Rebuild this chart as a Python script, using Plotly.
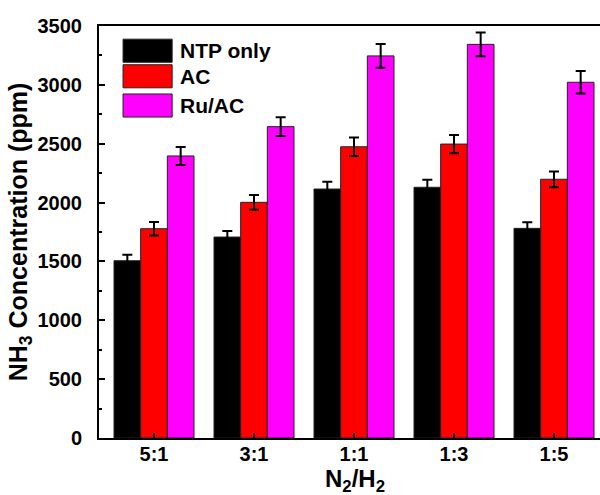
import plotly.graph_objects as go

categories = ["5:1", "3:1", "1:1", "1:3", "1:5"]
series_names = ["NTP only", "AC", "Ru/AC"]
ntp_only = [1506, 1707, 2115, 2130, 1781]
ntp_only_err = [50, 51, 62, 64, 51]
ac = [1778, 2002, 2474, 2497, 2198]
ac_err = [57, 62, 78, 77, 67]
ru_ac = [2396, 2645, 3246, 3344, 3022]
ru_ac_err = [76, 80, 101, 100, 96]
y_ticks = [0, 500, 1000, 1500, 2000, 2500, 3000, 3500]

values = [ntp_only, ac, ru_ac]
errors = [ntp_only_err, ac_err, ru_ac_err]
colors = ["#000000", "#ff0000", "#ff00ff"]
font_family = "Liberation Sans, Arial, sans-serif"

fig = go.Figure()
for name, vals, errs, col in zip(series_names, values, errors, colors):
    fig.add_trace(go.Bar(
        x=categories, y=vals, name=name,
        marker=dict(color=col, line=dict(color="#222222", width=1)),
        error_y=dict(type="data", array=errs, visible=True,
                     color="#000000", thickness=2, width=5),
        showlegend=False,
    ))

# legend drawn as boxes + labels in paper coordinates
legend_top = [0.968, 0.906, 0.835]
box_h = 0.056
for name, col, top in zip(series_names, colors, legend_top):
    fig.add_shape(type="rect", xref="paper", yref="paper",
                  x0=0.048, x1=0.146, y0=top - box_h, y1=top,
                  fillcolor=col, line=dict(color="#222222", width=1))
    fig.add_annotation(x=0.157, y=top - box_h / 2, xref="paper", yref="paper",
                       text=f"<b>{name}</b>", showarrow=False,
                       xanchor="left", yanchor="middle",
                       font=dict(size=21, color="#000000", family=font_family))

# x-axis title
fig.add_annotation(x=0.51, y=-0.102, xref="paper", yref="paper",
                   text="<b>N<sub>2</sub>/H<sub>2</sub></b>", showarrow=False,
                   xanchor="center", yanchor="middle",
                   font=dict(size=24, color="#000000", family=font_family))

fig.update_layout(
    width=600, height=495,
    margin=dict(l=99, r=0, t=26, b=57),
    paper_bgcolor="#ffffff", plot_bgcolor="#ffffff",
    barmode="group", bargap=0.2, bargroupgap=0,
    font=dict(family=font_family, color="#000000"),
)
fig.update_xaxes(
    range=[-0.55, 4.46], automargin=False,
    showline=True, linewidth=2, linecolor="#000000", mirror=True,
    ticks="inside", ticklen=5, tickwidth=2, tickcolor="#000000",
    tickfont=dict(size=20, family=font_family, weight="bold"),
    ticklabelstandoff=-3,
    showgrid=False,
)
fig.update_yaxes(
    range=[0, 3500], automargin=False,
    tickvals=y_ticks,
    showline=True, linewidth=2, linecolor="#000000", mirror=True,
    ticks="inside", ticklen=6, tickwidth=2, tickcolor="#000000",
    minor=dict(ticks="inside", ticklen=3, tickwidth=2, dtick=250, tickcolor="#000000"),
    tickfont=dict(size=20, family=font_family, weight="bold"),
    ticklabelstandoff=11,
    title=dict(text="<b>NH<sub>3</sub> Concentration (ppm)</b>",
               font=dict(size=25, family=font_family), standoff=3),
    showgrid=False, zeroline=False,
)

fig.write_html("out.html")
